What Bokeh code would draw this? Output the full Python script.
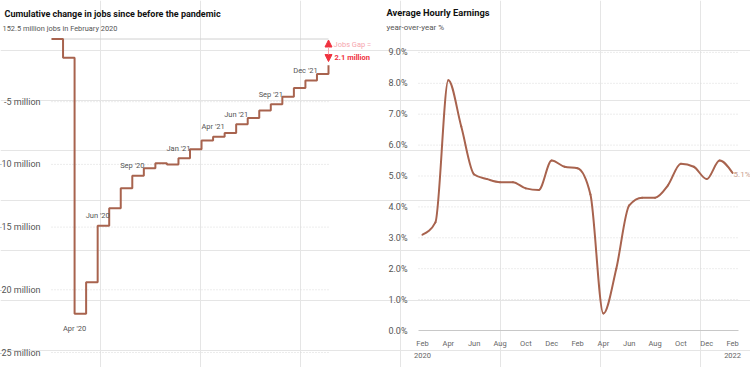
from bokeh.plotting import figure
from bokeh.models import (Range1d, LabelSet, ColumnDataSource, Arrow, NormalHead)
from bokeh.core.properties import value
from bokeh.embed import file_html
from bokeh.resources import INLINE

FONT = "Roboto"
BROWN = "#a8634e"
GRID = "#d9d9d9"
TEXT = "#555555"
RED = "#f0323f"
PINK = "#f6a5ad"

# ---------------- data: jobs chart ----------------
months = ["Feb 2020", "Mar 2020", "Apr 2020", "May 2020", "Jun 2020", "Jul 2020",
          "Aug 2020", "Sep 2020", "Oct 2020", "Nov 2020", "Dec 2020", "Jan 2021",
          "Feb 2021", "Mar 2021", "Apr 2021", "May 2021", "Jun 2021", "Jul 2021",
          "Aug 2021", "Sep 2021", "Oct 2021", "Nov 2021", "Dec 2021", "Jan 2022",
          "Feb 2022"]
jobs_change_m = [0.0, -1.5, -21.9, -19.4, -14.9, -13.5, -11.9, -10.9, -10.3, -9.9,
                 -10.0, -9.5, -8.8, -8.1, -7.8, -7.5, -6.8, -6.3, -5.7, -5.2,
                 -4.6, -3.9, -3.3, -2.8, -2.1]
jobs_title = "Cumulative change in jobs since before the pandemic"
jobs_subtitle = "152.5 million jobs in February 2020"
jobs_gap_text = "Jobs Gap ="
jobs_gap_value = "2.1 million"
jobs_tick_values = [-25, -20, -15, -10, -5]
jobs_tick_labels = ["-25 million", "-20 million", "-15 million", "-10 million", "-5 million"]
step_label_months = ["Jun 2020", "Sep 2020", "Jan 2021", "Apr 2021", "Jun 2021",
                     "Sep 2021", "Dec 2021"]
step_label_texts = ["Jun '20", "Sep '20", "Jan '21", "Apr '21", "Jun '21", "Sep '21", "Dec '21"]
low_label_months = ["Apr 2020"]
low_label_texts = ["Apr '20"]

# ---------------- data: earnings chart ----------------
ahe_yoy = [3.1, 3.5, 8.1, 6.6, 5.05, 4.9, 4.8, 4.8, 4.6, 4.55, 5.5, 5.3, 5.25, 4.4,
           0.55, 2.0, 4.05, 4.3, 4.3, 4.7, 5.4, 5.3, 4.9, 5.5, 5.1]
ahe_title = "Average Hourly Earnings"
ahe_subtitle = "year-over-year %"
ahe_tick_values = [0, 1, 2, 3, 4, 5, 6, 7, 8, 9]
ahe_tick_labels = ["0.0%", "1.0%", "2.0%", "3.0%", "4.0%", "5.0%", "6.0%", "7.0%", "8.0%", "9.0%"]
ahe_xtick_months = [0, 2, 4, 6, 8, 10, 12, 14, 16, 18, 20, 22, 24]
ahe_xtick_labels = ["Feb", "Apr", "Jun", "Aug", "Oct", "Dec", "Feb", "Apr", "Jun",
                    "Aug", "Oct", "Dec", "Feb"]
ahe_year_months = [0, 24]
ahe_year_labels = ["2020", "2022"]
ahe_end_label = "5.1%"

idx = list(range(len(months)))

# ---------------- layout (pixel geometry) ----------------
W, H = 750, 367
J_X0, J_DX = 51.0, 11.5417     # jobs chart: x pixel of first month, px per month
J_Y0, J_DY = 38.5, 12.54       # y pixel of 0, px per million
E_X0, E_DX = 422.0, 12.919     # earnings chart
E_Y0, E_DY = 330.0, 30.9

p = figure(width=W, height=H, x_range=Range1d(0, W), y_range=Range1d(H, 0),
           output_backend="svg", toolbar_location=None, x_axis_location=None,
           y_axis_location=None, min_border=0, outline_line_color=None)
p.title.visible = False

p.extra_x_ranges = {
    "jx": Range1d(-J_X0 / J_DX, (W - J_X0) / J_DX),
    "ex": Range1d(-E_X0 / E_DX, (W - E_X0) / E_DX),
}
p.extra_y_ranges = {
    "jy": Range1d((J_Y0 - H) / J_DY, J_Y0 / J_DY),
    "ey": Range1d((E_Y0 - H) / E_DY, E_Y0 / E_DY),
}

TXT = dict(text_font=value(FONT), text_baseline="middle")

# ================= jobs chart =================
p.text(x=[4], y=[13], text=[jobs_title], text_font_style="bold", text_font_size="9px",
       text_color="#111111", **TXT)
p.text(x=[2], y=[28], text=[jobs_subtitle], text_font_size="7.4px", text_color=TEXT, **TXT)

n_t = len(jobs_tick_values)
p.segment(x0=[idx[0]] * n_t, x1=[idx[-1]] * n_t, y0=jobs_tick_values, y1=jobs_tick_values,
          x_range_name="jx", y_range_name="jy", line_color=GRID, line_dash="1 2", line_width=1)
p.segment(x0=[idx[0]], x1=[idx[-1]], y0=[0], y1=[0], x_range_name="jx", y_range_name="jy",
          line_color="#d0d0d0", line_width=1)
p.text(x=[40] * n_t, y=jobs_tick_values, text=jobs_tick_labels, y_range_name="jy",
       text_align="right", text_font_size="9px", text_color=TEXT, **TXT)

p.step(x=idx, y=jobs_change_m, mode="after", line_color=BROWN, line_width=2,
       x_range_name="jx", y_range_name="jy")

hi = [months.index(m) for m in step_label_months]
src_hi = ColumnDataSource(dict(x=hi, y=[jobs_change_m[i] for i in hi], text=step_label_texts))
p.add_layout(LabelSet(x="x", y="y", text="text", source=src_hi, x_range_name="jx",
                      y_range_name="jy", text_align="center", text_baseline="middle",
                      y_offset=10, text_font=value(FONT), text_font_size="7.5px",
                      text_color=TEXT))
lo = [months.index(m) for m in low_label_months]
src_lo = ColumnDataSource(dict(x=lo, y=[jobs_change_m[i] for i in lo], text=low_label_texts))
p.add_layout(LabelSet(x="x", y="y", text="text", source=src_lo, x_range_name="jx",
                      y_range_name="jy", text_align="center", text_baseline="middle",
                      y_offset=-15, text_font=value(FONT), text_font_size="7.5px",
                      text_color=TEXT))

p.add_layout(Arrow(x_start=idx[-1], y_start=-1.8, x_end=idx[-1], y_end=-0.08,
                   x_range_name="jx", y_range_name="jy",
                   line_color=PINK, line_width=1,
                   start=NormalHead(size=7, fill_color=RED, line_color=RED),
                   end=NormalHead(size=7, fill_color=RED, line_color=RED)))
p.text(x=[333], y=[44], text=[jobs_gap_text], text_font_size="7.5px", text_color=PINK, **TXT)
p.text(x=[334], y=[57], text=[jobs_gap_value], text_font_style="bold", text_font_size="7.5px",
       text_color=RED, **TXT)

# ================= earnings chart =================
p.text(x=[386], y=[12], text=[ahe_title], text_font_style="bold", text_font_size="9.3px",
       text_color="#111111", **TXT)
p.text(x=[386], y=[27], text=[ahe_subtitle], text_font_size="8px", text_color=TEXT, **TXT)

grid_v = ahe_tick_values[1:]
p.segment(x0=[418] * len(grid_v), x1=[738] * len(grid_v), y0=grid_v, y1=grid_v,
          y_range_name="ey", line_color=GRID, line_dash="1 2", line_width=1)
p.segment(x0=[418], x1=[738], y0=[0], y1=[0], y_range_name="ey",
          line_color="#c8c8c8", line_width=1)
p.text(x=[407] * len(ahe_tick_values), y=ahe_tick_values, text=ahe_tick_labels,
       y_range_name="ey", text_align="right", text_font_size="9px", text_color=TEXT, **TXT)
p.text(x=ahe_xtick_months, y=[343] * len(ahe_xtick_months), text=ahe_xtick_labels,
       x_range_name="ex", text_align="center", text_font_size="7.5px", text_color="#666666", **TXT)
p.text(x=ahe_year_months, y=[355] * len(ahe_year_months), text=ahe_year_labels,
       x_range_name="ex", text_align="center", text_font_size="7.5px", text_color="#666666", **TXT)


def sgn(v):
    return (v > 0) - (v < 0)


def monotone_segments(xs, ys):
    n = len(xs)
    h = [xs[i + 1] - xs[i] for i in range(n - 1)]
    s = [(ys[i + 1] - ys[i]) / h[i] for i in range(n - 1)]
    t = [0.0] * n
    for i in range(1, n - 1):
        s0, s1 = s[i - 1], s[i]
        pp = (s0 * h[i] + s1 * h[i - 1]) / (h[i - 1] + h[i])
        t[i] = (sgn(s0) + sgn(s1)) * min(abs(s0), abs(s1), 0.5 * abs(pp))
    t[0] = (3 * s[0] - t[1]) / 2
    t[-1] = (3 * s[-1] - t[-2]) / 2
    seg = dict(x0=[], y0=[], x1=[], y1=[], cx0=[], cy0=[], cx1=[], cy1=[])
    for i in range(n - 1):
        d = h[i] / 3
        seg["x0"].append(xs[i]); seg["y0"].append(ys[i])
        seg["x1"].append(xs[i + 1]); seg["y1"].append(ys[i + 1])
        seg["cx0"].append(xs[i] + d); seg["cy0"].append(ys[i] + t[i] * d)
        seg["cx1"].append(xs[i + 1] - d); seg["cy1"].append(ys[i + 1] - t[i + 1] * d)
    return seg


bz = ColumnDataSource(monotone_segments(idx, ahe_yoy))
p.bezier(x0="x0", y0="y0", x1="x1", y1="y1", cx0="cx0", cy0="cy0", cx1="cx1", cy1="cy1",
         source=bz, x_range_name="ex", y_range_name="ey",
         line_color=BROWN, line_width=2, line_cap="round")

p.text(x=[idx[-1]], y=[ahe_yoy[-1]], text=[ahe_end_label], x_range_name="ex", y_range_name="ey",
       x_offset=1, y_offset=1.5, text_font_size="8px", text_color="#c9a08e", **TXT)

open("out.html", "w").write(file_html(p, INLINE))
